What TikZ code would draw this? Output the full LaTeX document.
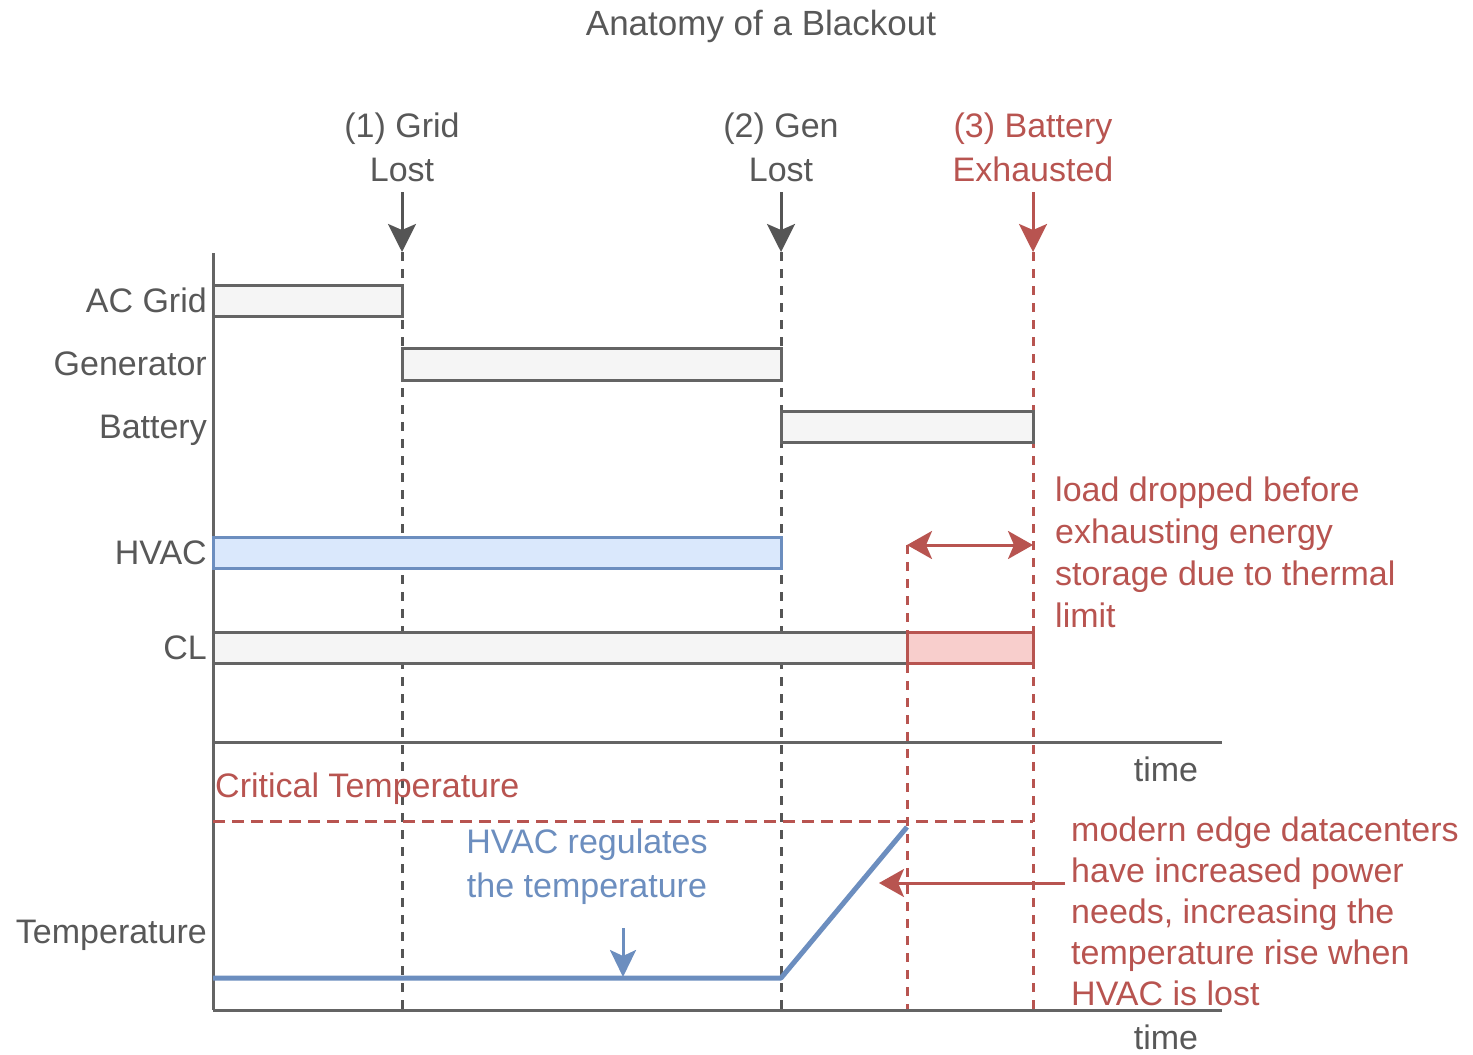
\documentclass[tikz,border=0pt]{standalone}
\usepackage{fontspec}
\setmainfont{Liberation Sans}
\usetikzlibrary{arrows.meta}
\definecolor{txtgray}{RGB}{88,88,88}
\definecolor{linegray}{RGB}{100,100,100}
\definecolor{dashgray}{RGB}{85,85,85}
\definecolor{redc}{HTML}{B85450}
\definecolor{redfill}{HTML}{F8CECC}
\definecolor{bluec}{HTML}{6C8EBF}
\definecolor{bluefill}{HTML}{DAE8FC}
\definecolor{grayfill}{HTML}{F5F5F5}
\begin{document}
\begin{tikzpicture}[x=1pt,y=-1pt,
  lbl/.style={font=\fontsize{34}{44}\selectfont, text=txtgray, inner sep=0pt},
  rlbl/.style={lbl, text=redc},
  blbl/.style={lbl, text=bluec},
  graybar/.style={draw=linegray, fill=grayfill, line width=3pt},
  bluebar/.style={draw=bluec, fill=bluefill, line width=3pt},
  redbar/.style={draw=redc, fill=redfill, line width=3pt},
  vdash/.style={draw=dashgray, line width=3pt, dash pattern=on 9pt off 8pt},
  rdash/.style={draw=redc, line width=3pt, dash pattern=on 9pt off 8pt},
  hdash/.style={draw=redc, line width=3pt, dash pattern=on 12pt off 7pt},
  axisline/.style={draw=linegray, line width=3pt},
  evarrow/.style={line width=3pt, -{Stealth[length=28pt,width=28pt,inset=6pt]}},
]
\useasboundingbox (0,0) rectangle (1473,1055);

% title
\node[lbl, font=\fontsize{35}{44}\selectfont, anchor=base] (title) at (761,35) {Anatomy of a Blackout};

% event labels
\node[lbl, anchor=north, align=center] (ev1) at (402,113) {(1) Grid\\Lost};
\node[lbl, anchor=north, align=center] (ev2) at (781,113) {(2) Gen\\Lost};
\node[rlbl, anchor=north, align=center] (ev3) at (1033,113) {(3) Battery\\Exhausted};

% coordinates
\coordinate (a1s) at (402,192); \coordinate (a1e) at (402,252); \coordinate (d1e) at (402,1010);
\coordinate (a2s) at (781,192); \coordinate (a2e) at (781,252); \coordinate (d2e) at (781,1010);
\coordinate (a3s) at (1033,192); \coordinate (a3e) at (1033,252); \coordinate (d3e) at (1033,1010);
\coordinate (d4s) at (907,545); \coordinate (d4e) at (907,1010);

% dashed verticals
\draw[vdash] (a1e) -- (d1e);
\draw[vdash] (a2e) -- (d2e);
\draw[rdash] (a3e) -- (d3e);
\draw[rdash] (d4s) -- (d4e);

% event arrows
\draw[evarrow, dashgray] (a1s) -- (a1e);
\draw[evarrow, dashgray] (a2s) -- (a2e);
\draw[evarrow, redc] (a3s) -- (a3e);

% axes
\coordinate (ytop) at (213,253);
\coordinate (ybot) at (213,1010);
\coordinate (x1s) at (213,742); \coordinate (x1e) at (1222,742);
\coordinate (x2e) at (1222,1010);
\draw[axisline] (ytop) -- (ybot);
\draw[axisline] (x1s) -- (x1e);
\draw[axisline] (ybot) -- (x2e);
\node[lbl, anchor=base] (time1) at (1166,781) {time};
\node[lbl, anchor=base] (time2) at (1166,1049) {time};

% bars
\draw[graybar] (213,285) rectangle (402,316);
\draw[graybar] (402,348) rectangle (781,380);
\draw[graybar] (781,411) rectangle (1033,442);
\draw[bluebar] (213,537) rectangle (781,568);
\draw[graybar] (213,632) rectangle (907,663);
\draw[redbar] (907,632) rectangle (1033,663);

% row labels
\node[lbl, anchor=base east] (lac) at (207,312) {AC Grid};
\node[lbl, anchor=base east] (lgen) at (207,375) {Generator};
\node[lbl, anchor=base east] (lbat) at (207,438) {Battery};
\node[lbl, anchor=base east] (lhvac) at (207,564) {HVAC};
\node[lbl, anchor=base east] (lcl) at (207,659) {CL};
\node[lbl, anchor=base east] (ltemp) at (207,943) {Temperature};

% load dropped annotation
\coordinate (dl) at (907,545); \coordinate (dr) at (1033,545);
\draw[redc, line width=3pt, {Stealth[length=25pt,width=28pt,inset=6pt]}-{Stealth[length=25pt,width=28pt,inset=6pt]}] (dl) -- (dr);
\node[rlbl, anchor=north west, align=left, font=\fontsize{34}{42}\selectfont] (loadtxt) at (1055,477)
  {load dropped before\\exhausting energy\\storage due to thermal\\limit};

% temperature panel
\node[rlbl, anchor=base west] (crit) at (215,797) {Critical Temperature};
\coordinate (cs) at (213,821); \coordinate (ce) at (1033,821);
\draw[hdash] (cs) -- (ce);
\coordinate (t0) at (213,978); \coordinate (t1) at (781,978); \coordinate (t2) at (907,827);
\draw[bluec, line width=5pt, line join=round] (t0) -- (t1) -- (t2);
\node[blbl, anchor=north, align=center] (hvactxt) at (587,829) {HVAC regulates\\the temperature};
\coordinate (bs) at (623,928); \coordinate (be) at (623,977);
\draw[bluec, line width=3pt, -{Stealth[length=27pt,width=26pt,inset=6pt]}] (bs) -- (be);

\node[rlbl, anchor=north west, align=left, font=\fontsize{34}{41}\selectfont] (modtxt) at (1071,817)
  {modern edge datacenters\\have increased power\\needs, increasing the\\temperature rise when\\HVAC is lost};
\coordinate (rs) at (1065,883); \coordinate (re) at (879,883);
\draw[redc, line width=3pt, -{Stealth[length=25pt,width=28pt,inset=6pt]}] (rs) -- (re);
\end{tikzpicture}
\end{document}
